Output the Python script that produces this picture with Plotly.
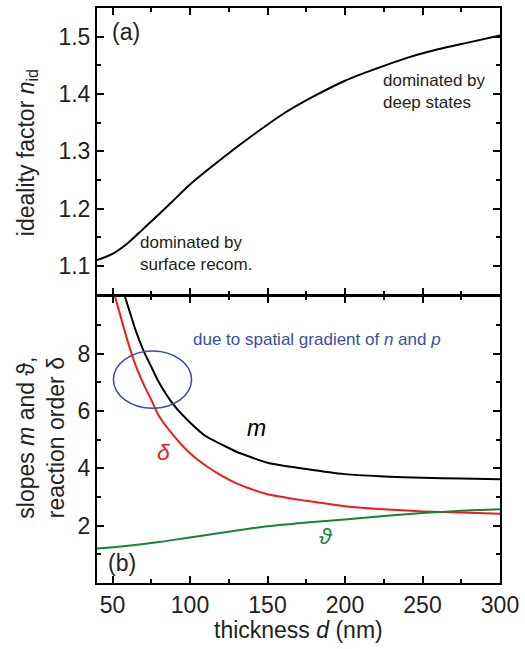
import plotly.graph_objects as go

# ---- data ----
d_nid = [40, 50, 60, 70, 80, 90, 100, 120, 140, 160, 180, 200, 220, 240, 260, 280, 300]
n_id = [1.110, 1.121, 1.140, 1.165, 1.190, 1.216, 1.242, 1.286, 1.327, 1.365, 1.396,
        1.423, 1.444, 1.463, 1.478, 1.490, 1.502]

d_m = [55, 60, 65, 70, 75, 80, 90, 100, 110, 120, 130, 140, 150, 175, 200, 225, 250, 275, 300]
m_vals = [10.5, 9.66, 8.81, 8.11, 7.55, 7.0, 6.18, 5.6, 5.13, 4.85, 4.58, 4.38, 4.2,
          3.98, 3.8, 3.72, 3.67, 3.65, 3.62]

d_delta = [48, 55, 60, 65, 70, 75, 80, 90, 100, 110, 120, 130, 140, 150, 175, 200, 225, 250, 275, 300]
delta_vals = [10.68, 9.35, 8.4, 7.59, 6.95, 6.39, 5.83, 5.11, 4.53, 4.1, 3.76, 3.48, 3.27,
              3.10, 2.87, 2.68, 2.57, 2.50, 2.46, 2.42]

d_theta = [40, 60, 80, 100, 125, 150, 175, 200, 225, 250, 275, 300]
theta_vals = [1.2, 1.3, 1.43, 1.59, 1.79, 1.98, 2.11, 2.22, 2.34, 2.44, 2.52, 2.57]

x_ticks = [50, 100, 150, 200, 250, 300]
x_minor = [75, 125, 175, 225, 275]
ya_ticks = [1.1, 1.2, 1.3, 1.4, 1.5]
ya_minor = [1.15, 1.25, 1.35, 1.45]
yb_ticks = [2, 4, 6, 8]
yb_minor = [1, 3, 5, 7, 9]

BLACK = "#000000"
RED = "#ee1c1c"
GREEN = "#13843c"
BLUE = "#3a4fa3"
TXT = "#222222"
FONT = "Liberation Sans, Arial, sans-serif"

def line(color):
    return dict(color=color, width=2, shape="spline", smoothing=0.8)

fig = go.Figure()
fig.add_trace(go.Scatter(x=d_nid, y=n_id, mode="lines", line=line(BLACK),
                         xaxis="x", yaxis="y", showlegend=False))
fig.add_trace(go.Scatter(x=d_m, y=m_vals, mode="lines", line=line(BLACK),
                         xaxis="x2", yaxis="y2", showlegend=False))
fig.add_trace(go.Scatter(x=d_delta, y=delta_vals, mode="lines", line=line(RED),
                         xaxis="x2", yaxis="y2", showlegend=False))
fig.add_trace(go.Scatter(x=d_theta, y=theta_vals, mode="lines", line=line(GREEN),
                         xaxis="x2", yaxis="y2", showlegend=False))

axis_common = dict(showline=True, linewidth=2, linecolor=BLACK, mirror="allticks",
                   ticks="inside", ticklen=7, tickwidth=2, tickcolor=BLACK,
                   showgrid=False, zeroline=False,
                   tickfont=dict(family=FONT, size=23, color=TXT))

def minor(vals):
    return dict(ticks="inside", ticklen=4, tickwidth=1.5, tickcolor=BLACK,
                tickmode="array", tickvals=vals)

H_PLOT = 577.0
gap = 1.0 / H_PLOT

fig.update_layout(
    width=525, height=649,
    margin=dict(l=97, r=23, t=6, b=66),
    plot_bgcolor="white", paper_bgcolor="white",
    xaxis=dict(axis_common, domain=[0, 1], range=[40, 300], anchor="y",
               tickmode="array", tickvals=x_ticks, showticklabels=False,
               minor=minor(x_minor)),
    yaxis=dict(axis_common, domain=[0.5 + gap, 1], range=[1.05, 1.55], anchor="x",
               tickmode="array", tickvals=ya_ticks, ticktext=[f"{v:.1f}" for v in ya_ticks],
               minor=minor(ya_minor)),
    xaxis2=dict(axis_common, domain=[0, 1], range=[40, 300], anchor="y2",
                tickmode="array", tickvals=x_ticks, minor=minor(x_minor)),
    yaxis2=dict(axis_common, domain=[0, 0.5 - gap], range=[0, 10], anchor="x2",
                tickmode="array", tickvals=yb_ticks, minor=minor(yb_minor)),
)

fig.add_shape(type="circle", xref="x2", yref="y2", x0=50.6, x1=101, y0=6.1, y1=8.1,
              line=dict(color=BLUE, width=1.5))

def ann(text, x, y, xref, yref, size=17, color=TXT, xanchor="left", yanchor="middle",
        angle=0, align="left"):
    fig.add_annotation(text=text, x=x, y=y, xref=xref, yref=yref, showarrow=False,
                       xanchor=xanchor, yanchor=yanchor, textangle=angle, align=align,
                       font=dict(family=FONT, size=size, color=color))

ann("(a)", 48.5, 1.508, "x", "y", size=23)
ann("dominated by<br>deep states", 223, 1.405, "x", "y")
ann("dominated by<br>surface recom.", 66.4, 1.1224, "x", "y")
ann("(b)", 46, 0.70, "x2", "y2", size=23)
ann("due to spatial gradient of <i>n</i> and <i>p</i>", 100.9, 8.49, "x2", "y2", color=BLUE)
ann("<i>m</i>", 142.7, 5.42, "x2", "y2", size=23, color=BLACK, xanchor="center")
ann("<i>δ</i>", 82.7, 4.58, "x2", "y2", size=23, color=RED, xanchor="center")
ann("<i>ϑ</i>", 187.7, 1.63, "x2", "y2", size=23, color=GREEN, xanchor="center")

# axis titles
ann("ideality factor <i>n</i><sub>id</sub>", -0.174, 0.749, "paper", "paper", size=23,
    xanchor="center", angle=-90, align="center")
ann("slopes <i>m</i> and ϑ,<br>reaction order δ", -0.141, 0.253, "paper", "paper", size=23,
    xanchor="center", angle=-90, align="center")
ann("thickness <i>d</i> (nm)", 0.501, -0.081, "paper", "paper", size=23,
    xanchor="center", align="center")

fig.write_html("out.html", config={"displayModeBar": False},
               post_script="document.body.style.margin='0px';")
